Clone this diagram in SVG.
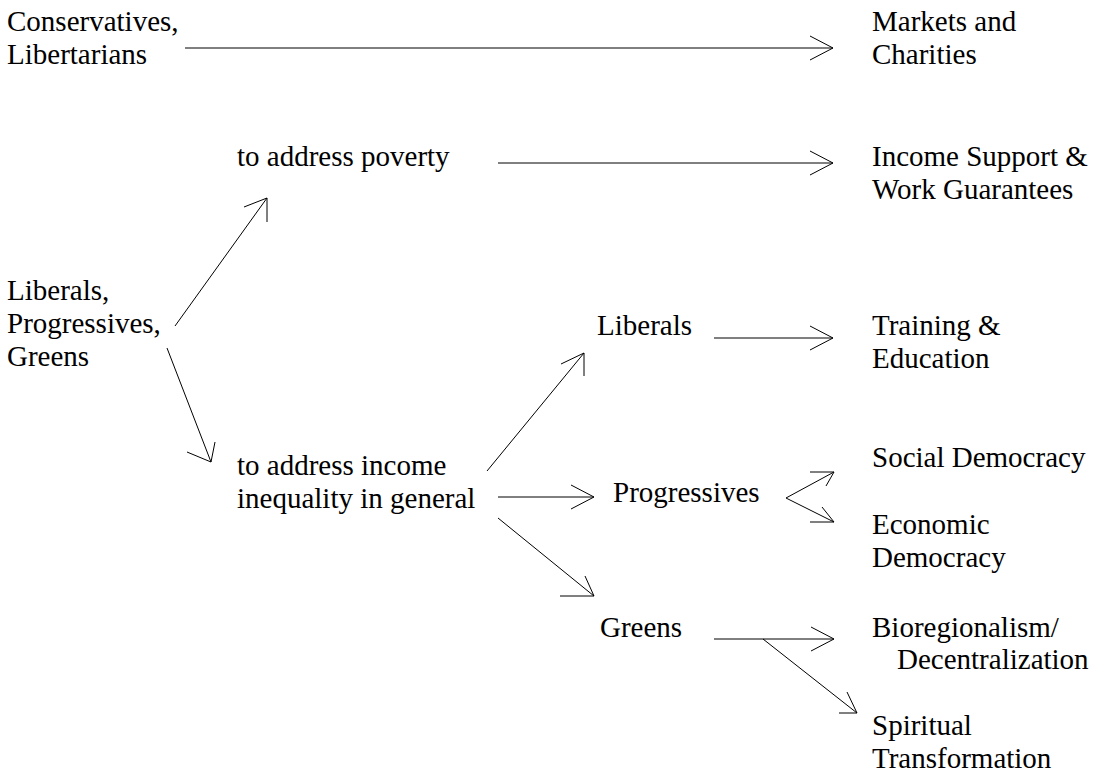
<svg xmlns="http://www.w3.org/2000/svg" width="1100" height="776" viewBox="0 0 1100 776">
  <style>
    text { font-family: "Liberation Serif", "Times New Roman", serif; font-size: 29px; fill: #000; }
    .edge { fill: none; stroke: #000; stroke-width: 1; }
  </style>
  <rect width="1100" height="776" fill="#fff"/>

  <!-- connectors: shaft plus open V head drawn as one path each -->
  <g id="connectors" class="edge">
    <path d="M185,48 H833 M810,36 L833,48 L810,60"/>
    <path d="M498,163 H833 M810,151 L833,163 L810,175"/>
    <path d="M175,326 L267,198 M244,207 L267,198 L267,222"/>
    <path d="M167,348 L211,462 M187,452 L211,462 L215,442"/>
    <path d="M487,471 L584,353 M561,364 L584,353 L584,376"/>
    <path d="M498,497 H594 M571,485 L594,497 L571,509"/>
    <path d="M498,518 L594,596 M560,596 L594,596 L585,576"/>
    <path d="M714,338 H833 M810,326 L833,338 L810,350"/>
    <path d="M834,472 L786,498 L834,522 M810,472 L834,472 L826,486 M810,522 L834,522 L822,507"/>
    <path d="M714,639 H834 M811,627 L834,639 L811,651"/>
    <path d="M763,639 L857,713 M839,713 L857,713 L847,692"/>
  </g>

  <g id="conservatives"><text x="7" y="31">Conservatives,</text><text x="7" y="64">Libertarians</text></g>
  <g id="markets"><text x="872" y="31">Markets and</text><text x="872" y="64">Charities</text></g>
  <g id="poverty"><text x="237" y="166">to address poverty</text></g>
  <g id="income-support"><text x="872" y="166">Income Support &amp;</text><text x="872" y="199">Work Guarantees</text></g>
  <g id="lpg"><text x="7" y="300">Liberals,</text><text x="7" y="333">Progressives,</text><text x="7" y="366">Greens</text></g>
  <g id="liberals"><text x="597" y="335">Liberals</text></g>
  <g id="training"><text x="872" y="335">Training &amp;</text><text x="872" y="368">Education</text></g>
  <g id="inequality"><text x="237" y="475">to address income</text><text x="237" y="508">inequality in general</text></g>
  <g id="progressives"><text x="613" y="502">Progressives</text></g>
  <g id="social-democracy"><text x="872" y="467">Social Democracy</text></g>
  <g id="economic-democracy"><text x="872" y="534">Economic</text><text x="872" y="567">Democracy</text></g>
  <g id="greens"><text x="600" y="637">Greens</text></g>
  <g id="bioregionalism"><text x="872" y="637">Bioregionalism/</text><text x="897" y="669">Decentralization</text></g>
  <g id="spiritual"><text x="872" y="735">Spiritual</text><text x="872" y="768">Transformation</text></g>
</svg>
